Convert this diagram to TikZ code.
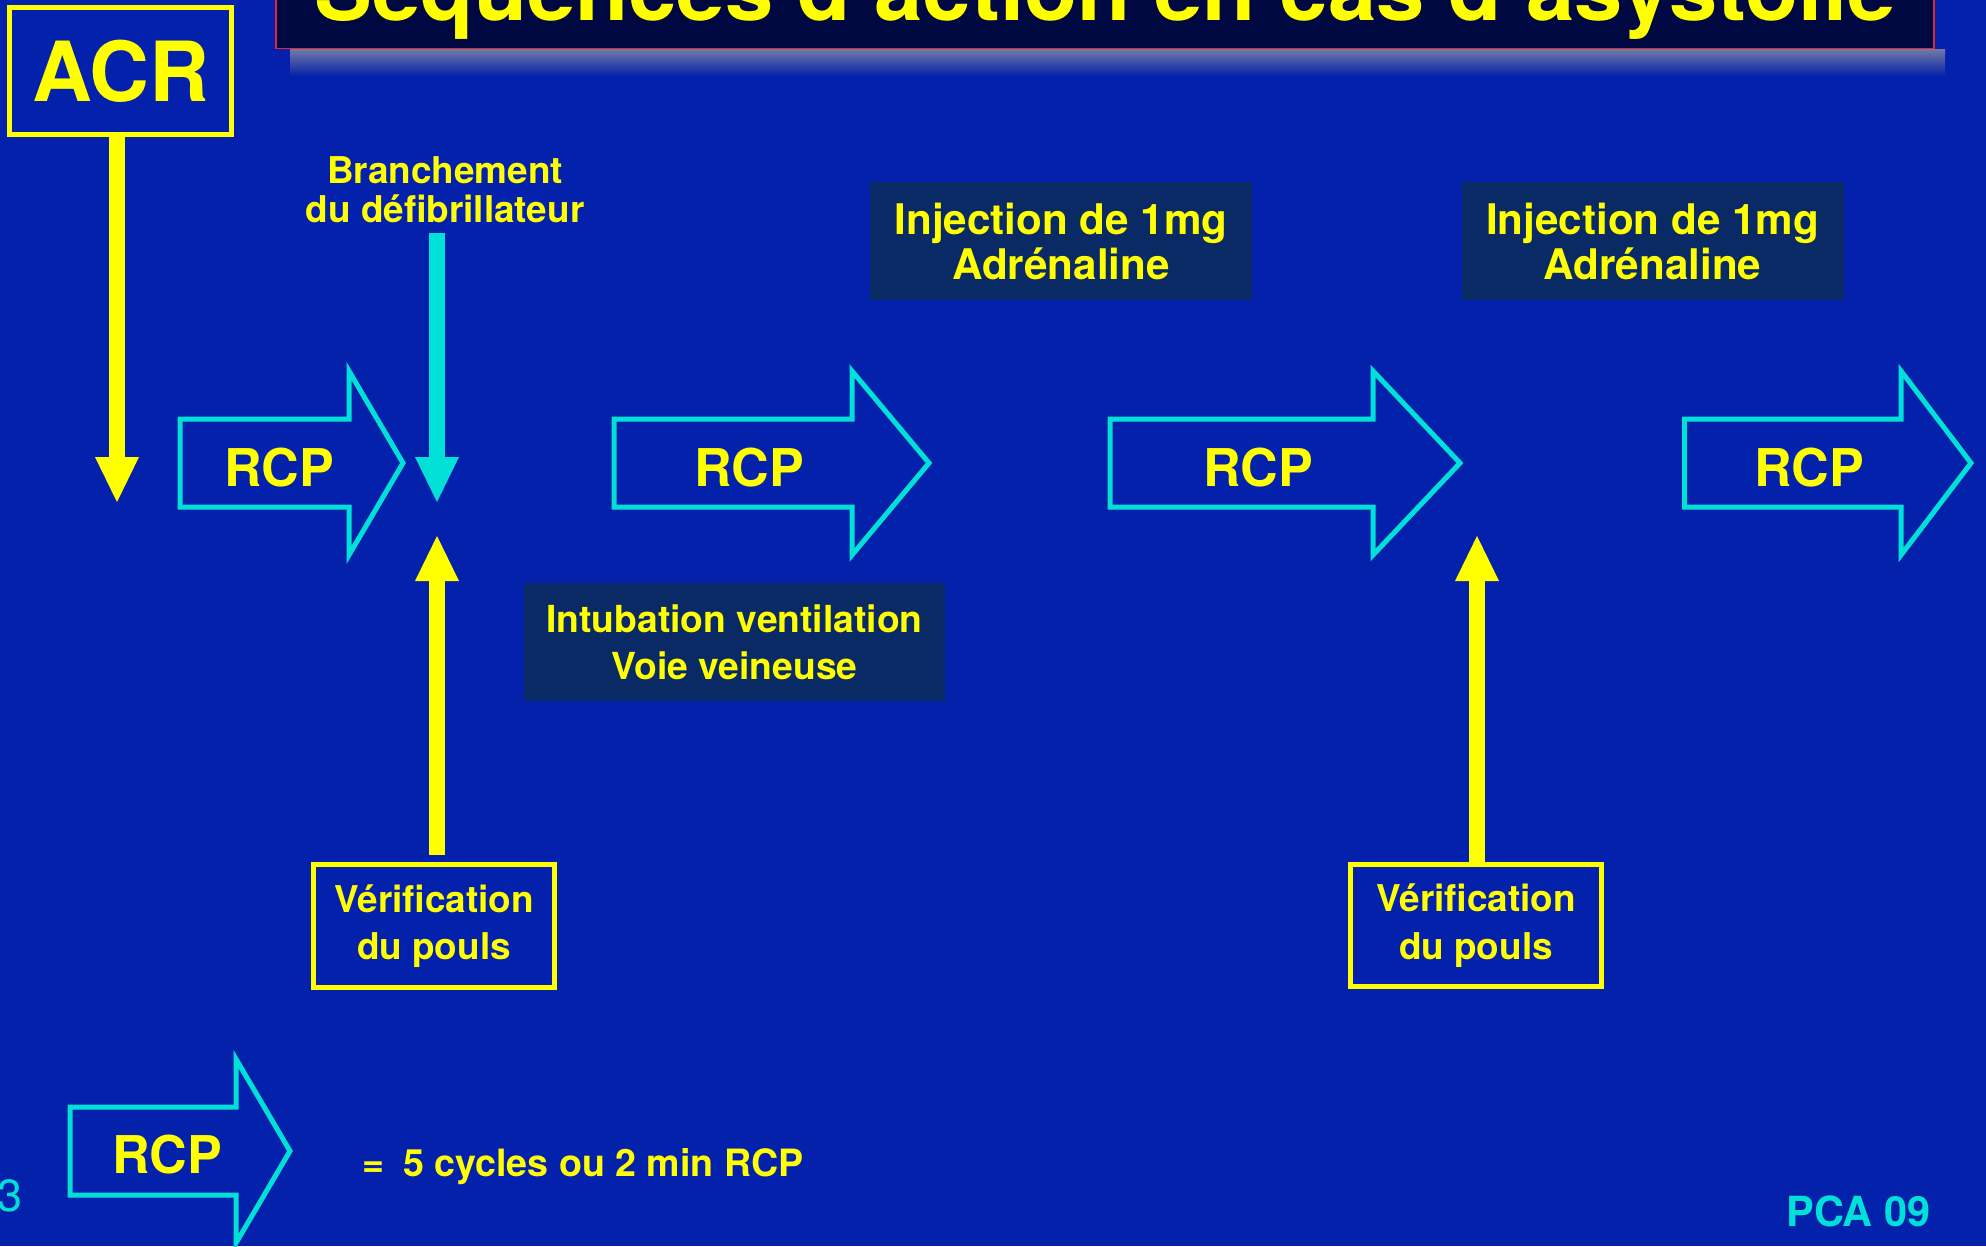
\documentclass[tikz,border=0pt]{standalone}
\usepackage{fontspec}
\setmainfont{TeX Gyre Heros}
\usetikzlibrary{arrows.meta}
\definecolor{slideblue}{RGB}{4, 33, 171}
\definecolor{boxnavy}{RGB}{10, 42, 102}
\definecolor{titlenavy}{RGB}{0, 8, 66}
\definecolor{acryellow}{RGB}{255, 255, 0}
\definecolor{rcpcyan}{RGB}{0, 224, 214}
\definecolor{titlered}{RGB}{220, 40, 60}
\definecolor{shadowgray}{RGB}{115, 122, 165}

% outline of an RCP arrow: left x, head base x, tip x, centre y
\newcommand{\rcparrow}[4]{%
  \draw[rcpline] (#1,#4+0.44) -- (#2,#4+0.44) -- (#2,#4+0.92) -- (#3,#4)
    -- (#2,#4-0.92) -- (#2,#4-0.44) -- (#1,#4-0.44) -- cycle;}

\begin{document}
\begin{tikzpicture}[
        box/.style={rectangle, draw=acryellow, line width=0.05cm, text=acryellow, align=center, font=\fontsize{10.5}{13.5}\selectfont\bfseries},
        infobox/.style={rectangle, fill=boxnavy, text=acryellow, align=center},
        note/.style={text=acryellow, align=center, inner sep=0pt, font=\fontsize{10.5}{11.2}\selectfont\bfseries},
        rcpline/.style={draw=rcpcyan, line width=0.05cm, line join=miter},
        rcptext/.style={anchor=base, inner sep=0pt, text=acryellow, font=\fontsize{14.8}{16}\selectfont\bfseries},
        arrow/.style={-{Triangle[width=0.44cm, length=0.45cm, line width=0pt]}, line width=0.16cm}
    ]
        % Slide frame
        \useasboundingbox (0,0) rectangle (19.86,-12.46);
        \clip (0,0) rectangle (19.86,-12.46);
        \fill[slideblue] (0,0) rectangle (19.86,-12.46);

        % Title, cut by the top edge
        \shade[top color=shadowgray, bottom color=slideblue] (2.90,-0.49) rectangle (19.45,-0.76);
        \node[anchor=south, minimum width=16.58cm, inner ysep=0pt, text depth=0.28cm, fill=titlenavy, draw=titlered, line width=0.4pt, text=acryellow, font=\fontsize{24.7}{28}\selectfont\bfseries] (title) at (11.05,-0.49) {Séquences d'action en cas d'asystolie};

        % Start
        \node[box, minimum width=2.22cm, minimum height=1.27cm, inner sep=0pt, font=\fontsize{23.6}{28}\selectfont\bfseries] (acr) at (1.205,-0.71) {ACR};

        % Top row: defibrillator and adrenaline
        \node[note, anchor=north] (branch) at (4.45,-1.56) {Branchement\\du défibrillateur};
        \node[infobox, minimum width=3.82cm, minimum height=1.18cm, font=\fontsize{12}{12.8}\selectfont\bfseries] (injA) at (10.61,-2.41) {Injection de 1mg\\Adrénaline};
        \node[infobox, minimum width=3.82cm, minimum height=1.18cm, font=\fontsize{12}{12.8}\selectfont\bfseries] (injB) at (16.525,-2.41) {Injection de 1mg\\Adrénaline};

        % Row of RCP arrows
        \rcparrow{1.80}{3.49}{4.03}{-4.63}
        \rcparrow{6.14}{8.52}{9.29}{-4.63}
        \rcparrow{11.10}{13.73}{14.60}{-4.63}
        \rcparrow{16.845}{19.01}{19.71}{-4.63}
        \node[rcptext] (rcpA) at (2.79,-4.86) {RCP};
        \node[rcptext] (rcpB) at (7.49,-4.86) {RCP};
        \node[rcptext] (rcpC) at (12.58,-4.86) {RCP};
        \node[rcptext] (rcpD) at (18.09,-4.86) {RCP};

        % Middle
        \node[infobox, minimum width=4.21cm, minimum height=1.18cm, font=\fontsize{10.6}{13.4}\selectfont\bfseries] (intub) at (7.345,-6.42) {Intubation ventilation\\Voie veineuse};

        % Pulse checks
        \node[box, minimum width=2.41cm, minimum height=1.23cm] (verifA) at (4.34,-9.26) {Vérification\\du pouls};
        \node[box, minimum width=2.51cm, minimum height=1.22cm] (verifB) at (14.76,-9.255) {Vérification\\du pouls};

        % Arrows
        \coordinate (acrtip) at (1.17,-5.02);
        \coordinate (defibtip) at (4.37,-5.02);
        \coordinate (pulsetipA) at (4.37,-5.36);
        \coordinate (pulsetipB) at (14.77,-5.36);
        \draw[arrow, acryellow] (acr.south -| acrtip) -- (acrtip);
        \draw[arrow, rcpcyan, shorten <=0.09cm] (branch.south -| defibtip) -- (defibtip);
        \draw[arrow, acryellow, shorten <=0.07cm] (verifA.north -| pulsetipA) -- (pulsetipA);
        \draw[arrow, acryellow] (verifB.north -| pulsetipB) -- (pulsetipB);

        % Key
        \rcparrow{0.70}{2.36}{2.90}{-11.51}
        \node[rcptext] (rcpkey) at (1.67,-11.73) {RCP};
        \node[anchor=base west, inner sep=0pt, text=acryellow, font=\fontsize{10.7}{13}\selectfont\bfseries] (keytext) at (3.62,-11.76) {=\hspace{0.08cm} 5 cycles ou 2 min RCP};

        % Footer
        \node[anchor=base west, inner sep=0pt, text=rcpcyan, font=\fontsize{12.8}{14}\selectfont] (pagenum) at (-0.03,-12.11) {3};
        \node[anchor=base, inner sep=0pt, text=rcpcyan, font=\fontsize{11.8}{14}\selectfont\bfseries] (pca) at (18.585,-12.26) {PCA 09};
    \end{tikzpicture}
\end{document}
